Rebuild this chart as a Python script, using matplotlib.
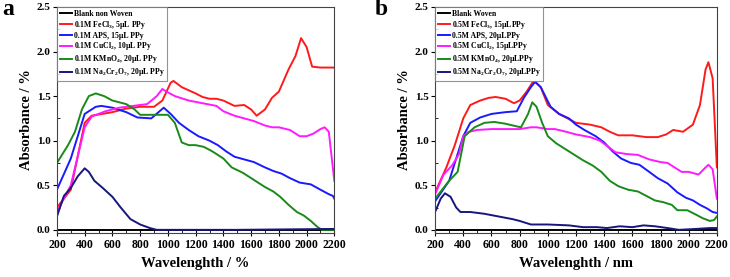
import matplotlib
matplotlib.use("Agg")
import matplotlib.pyplot as plt
from matplotlib.ticker import MultipleLocator

plt.rcParams['font.family'] = ['Liberation Serif', 'DejaVu Serif']
plt.rcParams['font.weight'] = 'bold'
plt.rcParams['mathtext.fontset'] = 'custom'
plt.rcParams['mathtext.rm'] = 'Liberation Serif:bold'
plt.rcParams['mathtext.it'] = 'Liberation Serif:bold'
plt.rcParams['mathtext.bf'] = 'Liberation Serif:bold'

# ---------------- Panel a data ----------------
a_blank_x = [200, 2200]
a_blank_y = [0.0, 0.0]

a_fe_x = [200, 300, 400, 450, 600, 700, 800, 900, 960, 1020, 1040, 1100, 1200, 1250, 1300, 1350, 1400, 1480, 1550, 1600, 1640, 1700, 1750, 1800, 1870, 1920, 1960, 2000, 2040, 2100, 2200]
a_fe_y = [0.25, 0.45, 1.2, 1.28, 1.32, 1.36, 1.38, 1.38, 1.45, 1.65, 1.67, 1.6, 1.53, 1.49, 1.47, 1.47, 1.45, 1.39, 1.4, 1.35, 1.28, 1.35, 1.48, 1.55, 1.8, 1.95, 2.15, 2.05, 1.83, 1.82, 1.82]

a_aps_x = [200, 300, 400, 480, 520, 600, 700, 780, 880, 970, 1020, 1080, 1150, 1220, 1300, 1360, 1420, 1480, 1550, 1620, 1700, 1760, 1820, 1880, 1950, 2030, 2100, 2160, 2190, 2200]
a_aps_y = [0.45, 0.8, 1.3, 1.38, 1.39, 1.37, 1.32, 1.26, 1.25, 1.37, 1.3, 1.2, 1.12, 1.05, 1.0, 0.95, 0.88, 0.82, 0.79, 0.76, 0.7, 0.66, 0.63, 0.58, 0.53, 0.51, 0.45, 0.4, 0.38, 0.35]

a_cu_x = [200, 300, 400, 450, 550, 650, 800, 850, 920, 960, 990, 1050, 1150, 1250, 1350, 1400, 1480, 1550, 1620, 1700, 1750, 1800, 1880, 1950, 2000, 2050, 2100, 2130, 2160, 2200]
a_cu_y = [0.2, 0.5, 1.15, 1.27, 1.33, 1.37, 1.4, 1.41, 1.5, 1.58, 1.55, 1.5, 1.45, 1.42, 1.39, 1.33, 1.28, 1.25, 1.22, 1.17, 1.15, 1.15, 1.12, 1.05, 1.05, 1.08, 1.13, 1.15, 1.1, 0.55]

a_mn_x = [200, 280, 330, 380, 430, 480, 540, 600, 700, 760, 800, 900, 1000, 1050, 1100, 1150, 1200, 1260, 1320, 1400, 1460, 1540, 1620, 1700, 1760, 1810, 1870, 1930, 1980, 2030, 2080, 2110, 2200]
a_mn_y = [0.75, 0.95, 1.1, 1.35, 1.5, 1.53, 1.5, 1.45, 1.41, 1.35, 1.29, 1.29, 1.29, 1.2, 0.98, 0.95, 0.95, 0.93, 0.88, 0.8, 0.7, 0.64, 0.56, 0.48, 0.43, 0.37, 0.28, 0.2, 0.16, 0.1, 0.03, 0.0, 0.0]

a_cr_x = [200, 250, 300, 350, 400, 430, 470, 530, 600, 660, 730, 800, 870, 920, 1500, 2200]
a_cr_y = [0.15, 0.38, 0.47, 0.6, 0.69, 0.65, 0.55, 0.47, 0.37, 0.25, 0.12, 0.06, 0.02, 0.0, 0.0, 0.01]

a_labels = ["Blank non Woven",
            r"0.1M FeCl$_3$, 5μL PPy",
            "0.1M APS, 15μL PPy",
            r"0.1M CuCl$_2$, 10μL PPy",
            r"0.1M KMnO$_4$, 20μL PPy",
            r"0.1M Na$_2$Cr$_2$O$_7$, 20μL PPy"]

# ---------------- Panel b data ----------------
b_blank_x = [200, 2200]
b_blank_y = [0.0, 0.0]

b_fe_x = [200, 280, 340, 400, 450, 520, 580, 630, 700, 760, 800, 850, 890, 910, 950, 1000, 1080, 1140, 1200, 1300, 1380, 1440, 1500, 1600, 1700, 1780, 1840, 1890, 1960, 2030, 2080, 2120, 2140, 2170, 2200]
b_fe_y = [0.42, 0.7, 0.95, 1.25, 1.4, 1.45, 1.48, 1.49, 1.47, 1.42, 1.45, 1.55, 1.65, 1.66, 1.6, 1.4, 1.3, 1.25, 1.2, 1.18, 1.15, 1.1, 1.06, 1.06, 1.04, 1.04, 1.07, 1.12, 1.1, 1.18, 1.4, 1.8, 1.88, 1.7, 0.7]

b_aps_x = [200, 300, 350, 400, 450, 520, 600, 700, 780, 830, 880, 910, 950, 1020, 1080, 1150, 1200, 1260, 1340, 1400, 1460, 1520, 1590, 1650, 1720, 1780, 1850, 1920, 1980, 2030, 2080, 2130, 2170, 2200]
b_aps_y = [0.32, 0.55, 0.8, 1.05, 1.2, 1.26, 1.3, 1.32, 1.33, 1.48, 1.6, 1.66, 1.6, 1.38, 1.3, 1.25, 1.18, 1.12, 1.05, 0.98, 0.88, 0.8, 0.75, 0.73, 0.65, 0.58, 0.52, 0.42, 0.36, 0.33, 0.28, 0.24, 0.2, 0.19]

b_cu_x = [200, 260, 320, 370, 400, 440, 500, 600, 700, 800, 880, 920, 1000, 1050, 1130, 1200, 1300, 1370, 1430, 1480, 1560, 1640, 1720, 1800, 1850, 1900, 1950, 2000, 2070, 2120, 2140, 2170, 2200]
b_cu_y = [0.4, 0.62, 0.72, 0.85, 1.05, 1.1, 1.12, 1.13, 1.13, 1.13, 1.15, 1.15, 1.13, 1.13, 1.1, 1.07, 1.04, 1.0, 0.93, 0.87, 0.85, 0.84, 0.79, 0.76, 0.75, 0.7, 0.65, 0.65, 0.62, 0.7, 0.73, 0.68, 0.35]

b_mn_x = [200, 300, 360, 410, 480, 550, 620, 700, 780, 810, 860, 890, 920, 960, 1000, 1060, 1130, 1190, 1250, 1320, 1380, 1440, 1500, 1570, 1640, 1700, 1760, 1820, 1880, 1920, 1990, 2040, 2100, 2150, 2180, 2200]
b_mn_y = [0.35, 0.55, 0.65, 1.05, 1.15, 1.2, 1.21, 1.19, 1.16, 1.15, 1.3, 1.43, 1.38, 1.2, 1.05, 0.97, 0.9, 0.84, 0.78, 0.72, 0.65, 0.55, 0.49, 0.45, 0.43, 0.38, 0.33, 0.31, 0.28, 0.22, 0.22, 0.18, 0.13, 0.1, 0.11, 0.15]

b_cr_x = [200, 240, 270, 310, 350, 380, 450, 550, 650, 750, 800, 880, 1000, 1150, 1250, 1350, 1420, 1510, 1600, 1680, 1760, 1850, 1930, 2050, 2150, 2200]
b_cr_y = [0.2, 0.35, 0.41, 0.37, 0.25, 0.2, 0.2, 0.18, 0.15, 0.12, 0.1, 0.06, 0.06, 0.05, 0.03, 0.03, 0.02, 0.04, 0.03, 0.05, 0.04, 0.02, 0.0, 0.01, 0.02, 0.02]

b_labels = ["Blank Woven",
            r"0.5M FeCl$_3$, 15μLPPy",
            "0.5M APS, 20μLPPy",
            r"0.5M CuCl$_2$, 15μLPPy",
            r"0.5M KMnO$_4$, 20μLPPy",
            r"0.5M Na$_2$Cr$_2$O$_7$, 20μLPPy"]

colors = ['#000000', '#ff1a1a', '#1a1aff', '#ff1aff', '#1a8a1a', '#16167e']

fig = plt.figure(figsize=(7.30, 2.77), dpi=100)
ax_a = fig.add_axes([0.078, 0.159, 0.380, 0.816])
ax_b = fig.add_axes([0.596, 0.159, 0.386, 0.816])

panels = [
    (ax_a, [(a_blank_x, a_blank_y), (a_fe_x, a_fe_y), (a_aps_x, a_aps_y), (a_cu_x, a_cu_y), (a_mn_x, a_mn_y), (a_cr_x, a_cr_y)], a_labels, "Wavelenghth / %", "a"),
    (ax_b, [(b_blank_x, b_blank_y), (b_fe_x, b_fe_y), (b_aps_x, b_aps_y), (b_cu_x, b_cu_y), (b_mn_x, b_mn_y), (b_cr_x, b_cr_y)], b_labels, "Wavelenghth / nm", "b"),
]

for ax, series, labels, xlabel, letter in panels:
    for (x, y), c, lab in zip(series, colors, labels):
        ax.plot(x, y, color=c, lw=1.4, label=lab, solid_joinstyle='round')
    ax.set_xlim(200, 2200)
    ax.set_ylim(-0.035, 2.5)
    ax.xaxis.set_major_locator(MultipleLocator(200))
    ax.xaxis.set_minor_locator(MultipleLocator(100))
    ax.yaxis.set_major_locator(MultipleLocator(0.5))
    ax.yaxis.set_minor_locator(MultipleLocator(0.25))
    ax.yaxis.set_major_formatter(matplotlib.ticker.FormatStrFormatter('%.1f'))
    ax.tick_params(axis='x', which='major', direction='inout', length=5, width=0.8, labelsize=8.5, pad=1.5)
    ax.tick_params(axis='y', which='major', direction='out', length=3, width=0.8, labelsize=8, pad=1.5)
    ax.tick_params(which='minor', direction='in', length=2, width=0.6)
    for lab in ax.get_xticklabels() + ax.get_yticklabels():
        lab.set_fontweight('bold')
    for s in ax.spines.values():
        s.set_linewidth(0.8)
        s.set_color('#444444')
    ax.set_xlabel(xlabel, fontsize=10.5, fontweight='bold', labelpad=5)
    ax.set_ylabel("Absorbance / %", fontsize=10.5, fontweight='bold', labelpad=3)
    leg = ax.legend(loc='upper left', fontsize=5.6, frameon=True, fancybox=False,
                    borderaxespad=0, handlelength=1.6, handletextpad=0.2,
                    labelspacing=0.12, borderpad=0.35)
    leg.get_frame().set_edgecolor('#777777')
    leg.get_frame().set_linewidth(0.8)
    for t in leg.get_texts():
        t.set_fontweight('bold')

fig.text(0.003, 0.965, "a", fontsize=17, fontweight='bold', va='center', ha='left')
fig.text(0.513, 0.965, "b", fontsize=17, fontweight='bold', va='center', ha='left')

fig.savefig("out.png", dpi=100)
